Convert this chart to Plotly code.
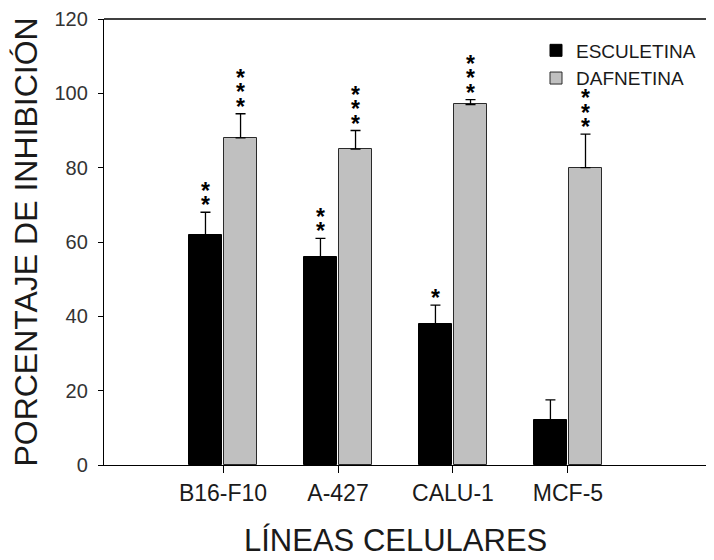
import plotly.graph_objects as go

categories = ["B16-F10", "A-427", "CALU-1", "MCF-5"]
esculetina = [62, 56, 38, 12]
esculetina_err = [6, 5, 5, 5.5]
dafnetina = [88, 85, 97, 80]
dafnetina_err = [6.5, 5, 1.3, 9]
esculetina_stars = [2, 2, 1, 0]
dafnetina_stars = [3, 3, 3, 3]
y_ticks = [0, 20, 40, 60, 80, 100, 120]

FONT = "Liberation Sans, Arial, sans-serif"
xpos = list(range(len(categories)))

BAR_W = 0.285
OFF_E = -0.295
OFF_D = 0.01

fig = go.Figure()
fig.add_trace(go.Bar(
    name="ESCULETINA", x=xpos, y=esculetina,
    width=BAR_W, offset=OFF_E,
    marker=dict(color="#000000", line=dict(color="#000000", width=1)),
    error_y=dict(type="data", array=esculetina_err, arrayminus=[0]*4, symmetric=False,
                 color="#000000", thickness=1.3, width=5),
))
fig.add_trace(go.Bar(
    name="DAFNETINA", x=xpos, y=dafnetina,
    width=BAR_W, offset=OFF_D,
    marker=dict(color="#c0c0c0", line=dict(color="#2a2a2a", width=1)),
    error_y=dict(type="data", array=dafnetina_err, arrayminus=[0]*4, symmetric=False,
                 color="#000000", thickness=1.3, width=5),
))

# significance stars
def add_stars(vals, errs, counts, off):
    for i, (v, e, n) in enumerate(zip(vals, errs, counts)):
        for k in range(n):
            fig.add_annotation(
                x=i + off + BAR_W / 2, y=v + e, xref="x", yref="y",
                text="<b>*</b>", showarrow=False, yanchor="middle", xanchor="center",
                yshift=7 + 14.5 * k,
                font=dict(family=FONT, size=23, color="#000000"),
            )

add_stars(esculetina, esculetina_err, esculetina_stars, OFF_E)
add_stars(dafnetina, dafnetina_err, dafnetina_stars, OFF_D)

fig.add_annotation(
    x=(395 - 104) / 610, y=-56 / 446, xref="paper", yref="paper",
    text="LÍNEAS CELULARES", showarrow=False, xanchor="center", yanchor="top",
    font=dict(family=FONT, size=31, color="#1a1a1a"),
)

# the page body adds an 8px offset, so the figure is 8px smaller and margins shifted
fig.update_layout(
    width=706, height=552,
    margin=dict(l=96, r=0, t=11, b=95, pad=0, autoexpand=False),
    paper_bgcolor="white", plot_bgcolor="white",
    showlegend=True,
    legend=dict(x=(536 - 104) / 610, y=0.972, xanchor="left", yanchor="top",
                bgcolor="rgba(0,0,0,0)", font=dict(family=FONT, size=19, color="#1a1a1a"),
                tracegroupgap=0, itemwidth=30),
    font=dict(family=FONT, color="#222222"),
    bargap=0, barmode="overlay",
)

fig.update_xaxes(
    range=[-1.035, 4.27], tickmode="array", tickvals=xpos, ticktext=categories,
    ticks="outside", ticklen=7, tickwidth=1, tickcolor="#000000",
    showline=True, linecolor="#000000", linewidth=1.3, mirror=False,
    showgrid=False, zeroline=False,
    tickfont=dict(family=FONT, size=23, color="#1a1a1a"),
)
fig.update_yaxes(
    range=[0, 120], tickmode="array", tickvals=y_ticks,
    ticks="outside", ticklen=5, tickwidth=1, tickcolor="#000000",
    showline=True, linecolor="#000000", linewidth=1.3, mirror=False,
    showgrid=False, zeroline=False, ticklabelstandoff=6,
    tickfont=dict(family=FONT, size=20, color="#333333"),
    title=dict(text="PORCENTAJE DE INHIBICIÓN", standoff=10,
               font=dict(family=FONT, size=32, color="#1a1a1a")),
)
# top border line of frame
fig.add_shape(type="line", xref="paper", yref="paper", x0=0, x1=1, y0=1, y1=1,
              line=dict(color="#000000", width=1.3))

fig.write_html("out.html")
